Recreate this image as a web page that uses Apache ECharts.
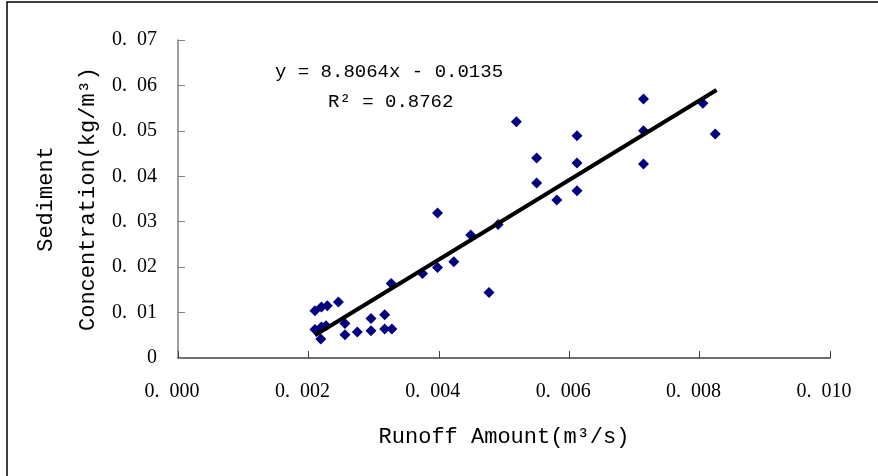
<!DOCTYPE html>
<html>
<head>
<meta charset="utf-8">
<script src="https://cdn.jsdelivr.net/npm/echarts@6/dist/echarts.min.js"></script>
<style>
  html, body { margin: 0; padding: 0; background: #fff; }
  #chart { width: 878px; height: 476px; }
</style>
</head>
<body>
<div id="chart"></div>
<script>
const runoff = [0.00519, 0.00714, 0.00805, 0.00824, 0.00714, 0.00714, 0.00612, 0.00612, 0.00612,
  0.00550, 0.00550, 0.00581, 0.00398, 0.00491, 0.00449, 0.00398, 0.00423, 0.00375, 0.00327,
  0.00477, 0.00246, 0.00210, 0.00220, 0.00229, 0.00210, 0.00220, 0.00227, 0.00219, 0.00256,
  0.00256, 0.00275, 0.00296, 0.00296, 0.00317, 0.00317, 0.00328];
const sediment = [0.0520, 0.0570, 0.0561, 0.0493, 0.0500, 0.0427, 0.0489, 0.0429, 0.0368,
  0.0440, 0.0385, 0.0348, 0.0319, 0.0294, 0.0271, 0.0199, 0.0212, 0.0186, 0.0164,
  0.0144, 0.0123, 0.0104, 0.0112, 0.0115, 0.0063, 0.0068, 0.0071, 0.0042, 0.0076,
  0.0051, 0.0057, 0.0087, 0.0060, 0.0095, 0.0064, 0.0064];

// Trend line end points (as drawn in the picture).
const trendX = [0.0021, 0.00826];
const trendY = [0.0050, 0.0590];

const equationText = 'y = 8.8064x - 0.0135';
const r2Text = 'R² = 0.8762';

const xTitle = 'Runoff Amount(m³/s)';
const yTitle = 'Sediment\nConcentration(kg/m³)';

const monoFont = '"Liberation Mono", monospace';
const serifFont = '"Liberation Serif", serif';

// "0.004" is shown as "0. 004" in the original
function tickText(v, digits) {
  if (v === 0 && digits === 2) return '0';
  return v.toFixed(digits).replace('.', '.\u2002');
}

const chart = echarts.init(document.getElementById('chart'));

chart.setOption({
  animation: false,
  backgroundColor: '#fff',
  grid: { left: 178, top: 40, right: 48, bottom: 118 },
  xAxis: {
    type: 'value',
    min: 0,
    max: 0.010,
    interval: 0.002,
    name: xTitle,
    nameLocation: 'middle',
    nameGap: 68,
    nameMoveOverlap: false,
    nameTextStyle: { fontFamily: monoFont, fontSize: 22, color: '#000' },
    axisLine: { onZero: false, lineStyle: { color: '#404040', width: 1.5 } },
    axisTick: { inside: true, length: 7, lineStyle: { color: '#404040' } },
    axisLabel: {
      margin: 24,
      padding: [0, 12, 0, 0],
      fontFamily: serifFont,
      fontSize: 20,
      color: '#000',
      formatter: (v) => tickText(v, 3)
    },
    splitLine: { show: false }
  },
  yAxis: {
    type: 'value',
    min: 0,
    max: 0.07,
    interval: 0.01,
    name: yTitle,
    nameLocation: 'middle',
    nameRotate: 90,
    nameGap: 69,
    nameMoveOverlap: false,
    nameTextStyle: { fontFamily: monoFont, fontSize: 22, color: '#000', lineHeight: 42 },
    axisLine: { onZero: false, lineStyle: { color: '#808080', width: 1.5 } },
    axisTick: { inside: true, length: 7, lineStyle: { color: '#808080' } },
    axisLabel: {
      margin: 21,
      fontFamily: serifFont,
      fontSize: 20,
      color: '#000',
      formatter: (v) => tickText(v, 2)
    },
    splitLine: { show: false }
  },
  graphic: [
    // outer frame, only top and left edges are visible in the crop
    {
      type: 'rect',
      shape: { x: 7, y: 2, width: 1000, height: 600 },
      style: { fill: 'none', stroke: '#000', lineWidth: 1.5 },
      silent: true
    },
    {
      type: 'text',
      left: 275,
      top: 62,
      style: { text: equationText, font: '19px ' + monoFont, fill: '#000' }
    },
    {
      type: 'text',
      left: 328,
      top: 92,
      style: { text: r2Text, font: '19px ' + monoFont, fill: '#000' }
    }
  ],
  series: [
    {
      type: 'line',
      data: trendX.map((x, i) => [x, trendY[i]]),
      showSymbol: false,
      lineStyle: { color: '#000', width: 4 },
      z: 3
    },
    {
      type: 'scatter',
      data: runoff.map((x, i) => [x, sediment[i]]),
      symbol: 'diamond',
      symbolSize: 11,
      itemStyle: { color: '#000080', opacity: 1 },
      z: 2
    }
  ]
});
</script>
</body>
</html>
